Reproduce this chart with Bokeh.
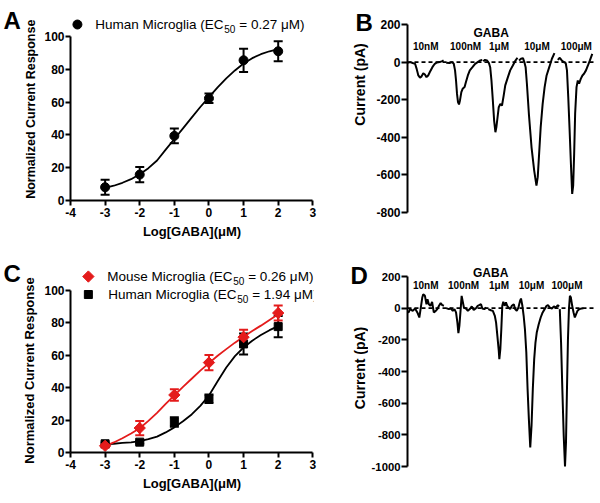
import math
from bokeh.plotting import figure
from bokeh.models import ColumnDataSource, Whisker, TeeHead, FixedTicker, Span
from bokeh.layouts import row, column
from bokeh.embed import file_html
from bokeh.resources import INLINE
from bokeh.core.properties import value

FONT = "Liberation Sans"
RED = "#e41b1b"

# ---------------- data: dose-response (panels A and C) ----------------
log_gaba = [-3, -2, -1, 0, 1, 2]
a_human_mean = [8.1, 15.8, 39.4, 62.3, 85.5, 91.0]
a_human_sem = [4.6, 4.7, 4.5, 2.9, 7.1, 6.1]

fit_x = [-3.0, -2.75, -2.5, -2.25, -2.0, -1.75, -1.5, -1.25, -1.0, -0.75, -0.5,
         -0.25, 0.0, 0.25, 0.5, 0.75, 1.0, 1.25, 1.5, 1.75, 2.0]
a_fit_y = [7.7, 9.0, 10.8, 13.0, 16.0, 19.7, 24.4, 31.0, 37.5, 44.0, 50.5,
           57.0, 63.0, 69.0, 74.5, 79.3, 83.5, 86.8, 89.2, 91.0, 92.3]

c_mouse_mean = [4.1, 15.1, 35.5, 55.5, 71.2, 86.1]
c_mouse_sem = [1.0, 4.4, 3.6, 4.7, 4.5, 4.6]
c_human_mean = [5.4, 6.4, 18.8, 33.2, 67.0, 77.7]
c_human_sem = [0.8, 0.8, 2.9, 2.6, 6.5, 6.5]
c_mouse_fit_y = [4.0, 6.2, 8.8, 11.7, 15.0, 19.5, 24.5, 30.0, 35.3, 40.5, 45.5,
                 50.5, 55.2, 59.7, 63.8, 67.8, 71.5, 75.0, 78.3, 81.8, 85.3]
c_human_fit_y = [5.2, 5.4, 5.9, 6.3, 7.0, 8.2, 9.8, 12.4, 15.5, 19.3, 23.5,
                 28.8, 35.2, 44.0, 52.5, 59.5, 64.8, 69.0, 72.5, 75.5, 78.0]

dose_ticks = [-4, -3, -2, -1, 0, 1, 2, 3]
dose_tick_labels = ["-4", "-3", "-2", "-1", "0", "1", "2", "3"]
resp_ticks = [0, 20, 40, 60, 80, 100]
resp_tick_labels = ["0", "20", "40", "60", "80", "100"]

# ---------------- data: current traces (panels B and D) ----------------
conc_labels = ["10nM", "100nM", "1μM", "10μM", "100μM"]

b_time = [
    [0, 2.7, 5.3, 7.7, 9.3, 11, 12.7, 14.3, 16, 17.7, 19.3, 21, 22.7, 25.3, 27.7, 30, 32.7, 35.3, 36.7],
    [39.3, 42.7, 45.3, 47, 48.3, 49.3, 50.3, 51.3, 52.3, 53.3, 54.7, 56, 58, 59.3, 61.3, 63.3, 66, 68.7, 71.3, 74, 76],
    [77, 78.7, 80.7, 82.7, 84, 85.3, 86.7, 88, 89.3, 90.3, 91.7, 92.7, 94.3, 96, 97.7, 99.3, 102, 104.3, 107, 109.3, 111.7],
    [113.3, 115.3, 117.3, 118.7, 120, 121.3, 123.3, 126, 128.7, 131, 132.3, 133.7, 135.3, 137.3, 139.3, 141.3, 144, 146.7, 149.3],
    [152.7, 154.7, 156.7, 158.7, 160.7, 162, 163.3, 164.7, 166, 167.3, 168.3, 169.3, 170.3, 171.7, 173, 174.3, 176, 177.7, 179.3, 181.3, 183.3, 185.3, 187.7],
]
b_current = [
    [-4, 0, -5, -9, -36, -71, -83, -76, -59, -66, -80, -71, -53, -27, -9, -2, 0, 5, 9],
    [-4, -5, 0, -9, -44, -98, -169, -213, -225, -204, -160, -142, -133, -107, -71, -44, -27, -9, 0, 9, 12],
    [5, 12, 9, -5, -27, -98, -204, -311, -373, -346, -284, -240, -222, -231, -178, -124, -80, -44, -18, 5, 23],
    [9, 18, 21, 0, -27, -115, -275, -453, -577, -657, -612, -488, -346, -222, -133, -71, -27, 18, 48],
    [12, 23, 9, 0, -5, -44, -186, -364, -541, -701, -657, -488, -275, -133, -98, -115, -89, -71, -62, -44, -18, 9, 44],
]
b_ticks = [200, 0, -200, -400, -600, -800]
b_tick_labels = ["200", "0", "-200", "-400", "-600", "-800"]

d_time = [
    [0, 1, 2.7, 5.3, 7.7, 10, 12, 13.3, 15, 16, 17.7, 19.3, 20.3, 21.7, 23.3, 25, 26.7, 28.7, 30.3, 32, 33.7, 35.3, 37],
    [39.3, 42, 44, 46, 47.7, 49.3, 50.7, 51.7, 52.7, 54, 55, 56, 57.3, 59.3, 61.3, 63.3, 65.3, 67.3, 69.3, 71.3, 72.7, 74.7, 76, 78, 80],
    [82, 84.7, 86.7, 88.7, 90, 91.3, 92.7, 93.3, 94.3, 95.3, 96.3, 97.3, 98.7, 100, 101.3, 102.7, 104.3, 106, 108, 109.3,
     111, 112.7, 114.3, 115.3, 116.7, 118, 119.3, 120.7, 122, 123.3, 124.7, 126, 127.3, 128.7, 130, 131.3, 133.3, 135.3,
     137.3, 139.3, 141.3, 142.7, 144.7, 146.7, 148.7, 150.7, 152.7, 154],
    [154.7, 156, 157.3, 158.7, 160, 161, 162, 163, 164, 165, 166, 167.3, 168.7, 170, 171.3, 172.7, 174.7, 176.7, 178.7],
]
d_current = [
    [-23, -27, -6, -17, -2, -27, -59, -6, 67, 88, 78, 25, 57, 25, 15, 40, -27, -17, -6, 15, 32, 19, 15],
    [0, -6, -2, -17, -6, -27, -91, -158, -112, -6, 78, 46, 4, -2, -17, -6, 11, -11, -2, 15, 19, 25, -2, -6, 4],
    [-6, -13, -17, -48, -91, -175, -269, -322, -259, -133, 15, 40, 15, 36, 15, 4, -6, 15, 25, -6,
     -17, 4, 46, 61, 15, -48, -133, -280, -512, -701, -880, -743, -512, -322, -217, -154, -101, -59,
     -27, -6, 15, 19, 4, -2, 11, 4, 19, 11],
    [-6, -217, -512, -806, -1000, -848, -512, -196, -6, 78, 67, 15, -27, -59, -38, -17, -6, -2, 0],
]
d_ticks = [200, 0, -200, -400, -600, -800, -1000]
d_tick_labels = ["200", "0", "-200", "-400", "-600", "-800", "-1000"]


# ---------------- helpers ----------------
def style_axis(ax, ticks, labels, tick_out=5, standoff=1, size="12px"):
    ax.ticker = FixedTicker(ticks=ticks)
    ax.major_label_overrides = {t: l for t, l in zip(ticks, labels)}
    ax.axis_line_width = 2
    ax.axis_line_color = "black"
    ax.major_tick_line_width = 2
    ax.major_tick_line_color = "black"
    ax.major_tick_in = 0
    ax.major_tick_out = tick_out
    ax.minor_tick_line_color = None
    ax.major_label_text_font = FONT
    ax.major_label_text_font_style = "bold"
    ax.major_label_text_font_size = size
    ax.major_label_text_color = "black"
    ax.major_label_standoff = standoff


def base_fig(width, height, x_range, y_range, mbl, mbr, mbt, mbb, xaxis=True, yaxis=True):
    kw = dict(width=width, height=height, x_range=x_range, y_range=y_range,
              output_backend="svg", toolbar_location=None, title=None,
              frame_align=False,
              min_border_left=mbl, min_border_right=mbr,
              min_border_top=mbt, min_border_bottom=mbb)
    if not xaxis:
        kw["x_axis_location"] = None
    if not yaxis:
        kw["y_axis_location"] = None
    p = figure(**kw)
    p.grid.visible = False
    p.outline_line_color = None
    p.background_fill_color = "white"
    p.border_fill_color = "white"
    return p


def label_fig(width, height, letter, letter_x, letter_y, ylabel, yl_x, yl_y, yl_size):
    """Narrow strip at the left of a panel holding the panel letter and the y-axis title."""
    p = base_fig(width, height, (0, width), (0, height), 0, 0, 0, 0, xaxis=False, yaxis=False)
    p.text(x=[letter_x], y=[letter_y], text=[letter], text_font=value(FONT),
           text_font_size="24px", text_font_style="bold", text_align="left",
           text_baseline="alphabetic", text_color="black")
    p.text(x=[yl_x], y=[yl_y], text=[ylabel], text_font=value(FONT),
           text_font_size=yl_size, text_font_style="bold", text_align="center",
           text_baseline="middle", angle=math.pi / 2, text_color="black")
    return p


def add_errorbars(p, xs, mean, sem, color):
    src = ColumnDataSource(dict(x=xs,
                                upper=[m + e for m, e in zip(mean, sem)],
                                lower=[m - e for m, e in zip(mean, sem)]))
    p.add_layout(Whisker(source=src, base="x", upper="upper", lower="lower",
                         line_color=color, line_width=2,
                         upper_head=TeeHead(size=9, line_color=color, line_width=2),
                         lower_head=TeeHead(size=9, line_color=color, line_width=2)))


def legend_text(p, x, y, pre, sub, post, pre_w):
    common = dict(text_font=value(FONT), text_color="black", text_align="left",
                  text_baseline="middle")
    p.text(x=[x], y=[y], text=[pre], text_font_size="13.5px", **common)
    p.text(x=[x], y=[y], text=[sub], text_font_size="10px", x_offset=pre_w + 1,
           y_offset=4, **common)
    p.text(x=[x], y=[y], text=[post], text_font_size="13.5px", x_offset=pre_w + 16, **common)


def dose_axes(p):
    style_axis(p.xaxis[0], dose_ticks, dose_tick_labels, tick_out=5, standoff=2)
    style_axis(p.yaxis[0], resp_ticks, resp_tick_labels, tick_out=5, standoff=1)
    p.xaxis.bounds = (-4, 3)
    p.yaxis.bounds = (0, 100)
    p.xaxis.axis_label = "Log[GABA](μM)"
    p.xaxis.axis_label_text_font = FONT
    p.xaxis.axis_label_text_font_style = "bold"
    p.xaxis.axis_label_text_font_size = "13px"
    p.xaxis.axis_label_text_color = "black"
    p.xaxis.axis_label_standoff = 4


ROW1_H = 253
ROW2_H = 249

# ---------------- panel A ----------------
labA = label_fig(41, ROW1_H, "A", 3, 233, "Normalized Current Response", 30, 144.3, "12.5px")
pA = base_fig(289, ROW1_H, (-4, 3.02), (0, 113.41), 27, 17, 14, 53)
dose_axes(pA)
pA.line(fit_x, a_fit_y, line_color="black", line_width=1.8)
add_errorbars(pA, log_gaba, a_human_mean, a_human_sem, "black")
pA.scatter(log_gaba, a_human_mean, marker="circle", size=9, color="black")
pA.scatter([-3.8], [107.3], marker="circle", size=9, color="black")
legend_text(pA, -3.284, 107.3, "Human Microglia (EC", "50", "= 0.27 μM)", 128)

# ---------------- panel B ----------------
labB = label_fig(43, ROW1_H, "B", 25, 231, "Current (pA)", 29, 169, "14px")
pB = base_fig(227, ROW1_H, (0, 192), (-805.3, 221.3), 31, 4, 20, 40, xaxis=False)
style_axis(pB.yaxis[0], b_ticks, b_tick_labels, tick_out=6, standoff=1)
pB.yaxis.bounds = (-800, 200)
pB.add_layout(Span(location=0, dimension="width", line_color="black",
                   line_width=1.6, line_dash="4 3"))
pB.multi_line(b_time, b_current, line_color="black", line_width=2)
pB.text(x=[85], y=[155], text=["GABA"], text_font=value(FONT), text_font_size="12px",
        text_font_style="bold", text_align="center", text_baseline="middle")
pB.text(x=[18.5, 59, 93, 131.5, 171.5], y=[81] * 5, text=conc_labels,
        text_font=value(FONT), text_font_size="10px", text_font_style="bold",
        text_align="center", text_baseline="middle")

# ---------------- panel C ----------------
labC = label_fig(41, ROW2_H, "C", 3, 229, "Normalized Current Response", 29, 132, "13px")
pC = base_fig(289, ROW2_H, (-4, 3.02), (0, 114.8), 27, 17, 13, 50)
dose_axes(pC)
pC.line(fit_x, c_human_fit_y, line_color="black", line_width=1.8)
pC.line(fit_x, c_mouse_fit_y, line_color=RED, line_width=1.8)
add_errorbars(pC, log_gaba, c_human_mean, c_human_sem, "black")
add_errorbars(pC, log_gaba, c_mouse_mean, c_mouse_sem, RED)
pC.scatter(log_gaba, c_human_mean, marker="square", size=8, color="black")
pC.scatter(log_gaba, c_mouse_mean, marker="square", size=8, angle=math.pi / 4, color=RED)
pC.scatter([-3.484], [108.6], marker="square", size=8, angle=math.pi / 4, color=RED)
pC.scatter([-3.484], [97.5], marker="square", size=8, color="black")
legend_text(pC, -2.94, 108.6, "Mouse Microglia (EC", "50", "= 0.26 μM)", 125)
legend_text(pC, -2.91, 97.5, "Human Microglia (EC", "50", "= 1.94 μM)", 128)

# ---------------- panel D ----------------
labD = label_fig(38, ROW2_H, "D", 20, 227, "Current (pA)", 29, 134.5, "14px")
pD = base_fig(232, ROW2_H, (0, 192), (-1018.9, 275.8), 36, 4, 11, 33, xaxis=False)
style_axis(pD.yaxis[0], d_ticks, d_tick_labels, tick_out=6, standoff=1, size="11.3px")
pD.yaxis.bounds = (-1000, 200)
pD.add_layout(Span(location=0, dimension="width", line_color="black",
                   line_width=1.6, line_dash="4 3"))
pD.multi_line(d_time, d_current, line_color="black", line_width=2)
pD.text(x=[84.5], y=[225], text=["GABA"], text_font=value(FONT), text_font_size="12px",
        text_font_style="bold", text_align="center", text_baseline="middle")
pD.text(x=[18.5, 57, 93, 126, 162], y=[143] * 5, text=conc_labels,
        text_font=value(FONT), text_font_size="10px", text_font_style="bold",
        text_align="center", text_baseline="middle")

layout = column(row(labA, pA, labB, pB), row(labC, pC, labD, pD))
open("out.html", "w").write(file_html(layout, INLINE))
